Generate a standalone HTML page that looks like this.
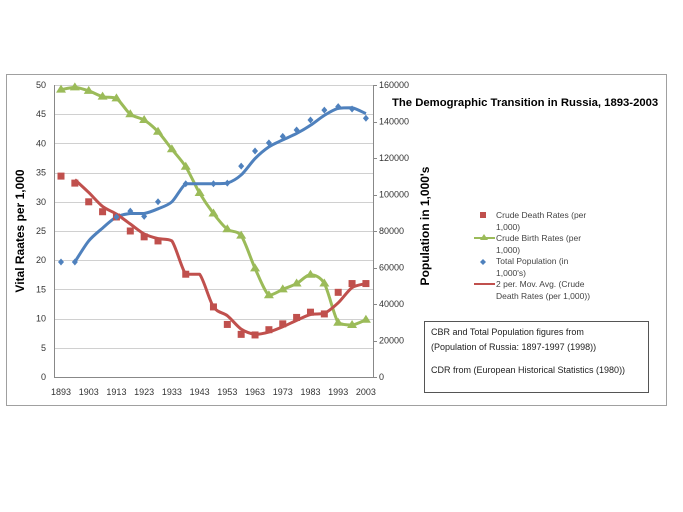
<!DOCTYPE html>
<html><head><meta charset="utf-8"><style>
html,body{margin:0;padding:0;background:#fff;}
svg{display:block;font-family:"Liberation Sans",sans-serif;}
</style></head><body>
<svg id="s" width="683" height="512" viewBox="0 0 683 512">
<rect x="6.5" y="74.5" width="660" height="331" fill="#fff" stroke="#a0a0a0" stroke-width="1"/>
<g id="grid" stroke="#d0d0d0" stroke-width="1"></g>
<line x1="54.5" y1="85" x2="54.5" y2="377" stroke="#888"/>
<line x1="373.5" y1="85" x2="373.5" y2="377" stroke="#888"/>
<line x1="54" y1="377.5" x2="374" y2="377.5" stroke="#888"/>
<g id="lt" font-size="9" fill="#333" text-anchor="end"></g>
<g id="rt" font-size="9" fill="#333" text-anchor="start"></g>
<g id="xt" font-size="9" fill="#333" text-anchor="middle"></g>
<text transform="translate(24,231) rotate(-90)" font-size="12" font-weight="bold" text-anchor="middle" fill="#000">Vital Raates per 1,000</text>
<text transform="translate(429,226) rotate(-90)" font-size="12" font-weight="bold" text-anchor="middle" fill="#000">Population in 1,000's</text>
<text x="392" y="106" font-size="11.3" font-weight="bold" fill="#000">The Demographic Transition in Russia, 1893-2003</text>
<g id="series"></g>
<g font-size="8.5" fill="#444">
<rect x="480" y="212" width="6" height="6" fill="#c0504d"/>
<text x="496" y="218">Crude Death Rates (per</text><text x="496" y="230">1,000)</text>
<line x1="474" y1="238" x2="495" y2="238" stroke="#9bbb59" stroke-width="2"/><polygon points="484,234 488,240 480,240" fill="#9bbb59"/>
<text x="496" y="241">Crude Birth Rates (per</text><text x="496" y="253">1,000)</text>
<polygon points="483,259 486,262 483,265 480,262" fill="#4f81bd"/>
<text x="496" y="264">Total Population (in</text><text x="496" y="276">1,000's)</text>
<line x1="474" y1="284" x2="495" y2="284" stroke="#c0504d" stroke-width="2"/>
<text x="496" y="287">2 per. Mov. Avg. (Crude</text><text x="496" y="299">Death Rates (per 1,000))</text>
</g>
<rect x="424.5" y="321.5" width="224" height="71" fill="#fff" stroke="#555"/>
<g font-size="9" fill="#222">
<text x="431" y="335">CBR and Total Population figures from</text>
<text x="431" y="350">(Population of Russia: 1897-1997 (1998))</text>
<text x="431" y="373">CDR from (European Historical Statistics (1980))</text>
</g>
</svg>
<script>
var NS="http://www.w3.org/2000/svg";
function el(p,t,a,txt){var e=document.createElementNS(NS,t);for(var k in a)e.setAttribute(k,a[k]);if(txt!=null)e.textContent=txt;document.getElementById(p).appendChild(e);return e;}
function Y(v){return 377-v*5.84;}
function X(i){return 61+i*13.86;}
for(var v=0;v<=50;v+=5){var y=Y(v);if(v>0)el("grid","line",{x1:54,x2:373,y1:Math.round(y)+.5,y2:Math.round(y)+.5});
el("lt","text",{x:46,y:y+3},String(v));}
for(var p=0;p<=160000;p+=20000){var y=Y(p/3200);el("rt","text",{x:379,y:y+3},String(p));el("grid","line",{x1:373,x2:377,y1:Math.round(y)+.5,y2:Math.round(y)+.5,stroke:"#888"});}
for(var i=0;i<23;i+=2){el("xt","text",{x:X(i),y:395},String(1893+i*5));}
function clamp(v,a,b){var lo=Math.min(a,b),hi=Math.max(a,b);return Math.max(lo,Math.min(hi,v));}
function smooth(pts){var d="M"+pts[0][0]+","+pts[0][1];for(var i=0;i<pts.length-1;i++){var p0=pts[i-1]||pts[i],p1=pts[i],p2=pts[i+1],p3=pts[i+2]||p2;
var c1=[p1[0]+(p2[0]-p0[0])/7,clamp(p1[1]+(p2[1]-p0[1])/7,p1[1],p2[1])],c2=[p2[0]-(p3[0]-p1[0])/7,clamp(p2[1]-(p3[1]-p1[1])/7,p1[1],p2[1])];
d+=" C"+c1+" "+c2+" "+p2;}return d;}
function line(vals,start,col){var pts=[];for(var i=0;i<vals.length;i++)pts.push([X(i+start),Y(vals[i])]);el("series","path",{d:smooth(pts),fill:"none",stroke:col,"stroke-width":3,"stroke-linejoin":"round"});}
var cdr=[34.4,33.2,30,28.3,27.4,25,24,23.3,null,17.6,null,12,9,7.3,7.2,8.1,9.1,10.2,11.1,10.8,14.5,16,16];
var cdrMA=[33.8,31.6,29.2,27.9,26.2,24.5,23.7,23.3,17.6,17.6,12,10.5,8.2,7.3,7.7,8.6,9.7,10.7,10.9,12.7,15.3,16];
var cbr=[49.2,49.6,49,48,47.7,45,44,42,39,36,31.5,28,25.3,24.2,18.6,14,15,16,17.5,16,9.3,8.9,9.8];
var pop=[19.7,19.7,null,null,27.4,28.4,27.5,30,null,33.1,null,33.1,33.2,36.1,38.7,40.1,41.2,42.3,44,45.7,46.3,45.9,44.3];
var popMA=[19.7,23.3,25.5,27.4,28,28,28.8,30,33.1,33.1,33.1,33.2,34.6,37.4,39.4,40.6,41.7,43.1,44.8,46,46.1,45.1];
line(cbr,0,"#9bbb59");
line(popMA,1,"#4f81bd");
line(cdrMA,1,"#c0504d");
for(var i=0;i<23;i++){var x=X(i);
if(cbr[i]!=null){var y=Y(cbr[i]);el("series","polygon",{points:(x)+","+(y-5)+" "+(x+5)+","+(y+3)+" "+(x-5)+","+(y+3),fill:"#9bbb59"});}
if(cdr[i]!=null){var y=Y(cdr[i]);el("series","rect",{x:x-3.5,y:y-3.5,width:7,height:7,fill:"#c0504d"});}
if(pop[i]!=null){var y=Y(pop[i]);el("series","polygon",{points:x+","+(y-3.5)+" "+(x+3)+","+y+" "+x+","+(y+3.5)+" "+(x-3)+","+y,fill:"#4f81bd"});}
}
</script>
</body></html>
